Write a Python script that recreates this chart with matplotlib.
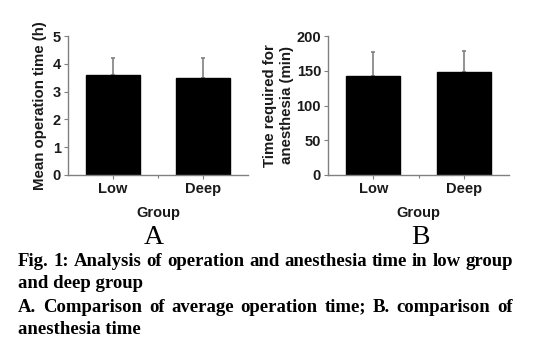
import matplotlib
matplotlib.use('Agg')
import matplotlib.pyplot as plt
from matplotlib.ticker import MultipleLocator

# Data
groups = ['Low', 'Deep']
op_mean = [3.6, 3.48]
op_sd = [0.61, 0.73]
an_mean = [143, 148]
an_sd = [34, 30]

caption = [
    'Fig. 1: Analysis of operation and anesthesia time in low group',
    'and deep group',
    'A. Comparison of average operation time; B. comparison of',
    'anesthesia time',
]

sans = 'Liberation Sans'
serif = 'Liberation Serif'
ink = '#1a1a1a'
grey = '#808080'

fig = plt.figure(figsize=(5.47, 3.47), dpi=100)
ax1 = fig.add_axes([68/547, 1 - 175/347, 180/547, 139/347])
ax2 = fig.add_axes([328/547, 1 - 175/347, 181/547, 139/347])


def draw_panel(ax, means, sds, ymax, ystep, ylabel, pad):
    x = range(len(groups))
    ax.bar(x, means, width=0.6, color='black', edgecolor='black', zorder=2)
    ax.errorbar(x, means, yerr=[[0]*len(sds), sds], fmt='none',
                ecolor=grey, elinewidth=1.2, capsize=1.5, capthick=1.2, zorder=1)
    ax.set_xlim(-0.5, 1.5)
    ax.set_ylim(0, ymax)
    ax.yaxis.set_major_locator(MultipleLocator(ystep))
    ax.set_xticks(list(x))
    ax.set_xticklabels(groups)
    ax.set_xticks([0.5], minor=True)
    for s in ['top', 'right']:
        ax.spines[s].set_visible(False)
    for s in ['left', 'bottom']:
        ax.spines[s].set_color(grey)
        ax.spines[s].set_linewidth(1.0)
    ax.tick_params(axis='both', which='both', colors=grey, length=3, width=0.8,
                   labelcolor=ink, labelsize=10.5, pad=2)
    ax.tick_params(axis='x', which='minor', length=2)
    for lab in ax.get_xticklabels() + ax.get_yticklabels():
        lab.set_fontfamily(sans)
        lab.set_fontweight('bold')
    ax.set_xlabel('Group', fontfamily=sans, fontweight='bold', fontsize=10.5,
                  color=ink, labelpad=7)
    ax.set_ylabel(ylabel, fontfamily=sans, fontweight='bold', fontsize=10.8,
                  color=ink, labelpad=pad, linespacing=1.2)


draw_panel(ax1, op_mean, op_sd, 5, 1, 'Mean operation time (h)', 4)
draw_panel(ax2, an_mean, an_sd, 200, 50, 'Time required for\nanesthesia (min)', 2)

fig.text(154/547, 1 - 237/347, 'A', fontfamily=serif, fontsize=20,
         ha='center', va='center', color='black')
fig.text(420/547, 1 - 237/347, 'B', fontfamily=serif, fontsize=20,
         ha='center', va='center', color='black')

# caption, justified where the original is
renderer = fig.canvas.get_renderer()
left, right = 18, 513
line_y = [261, 284, 307, 329]
justify = [True, False, True, False]
for text, yy, jus in zip(caption, line_y, justify):
    yf = 1 - yy/347
    if not jus:
        fig.text(left/547, yf, text, fontfamily=serif, fontweight='bold',
                 fontsize=13.5, va='center', ha='left')
        continue
    words = text.split(' ')
    objs = [fig.text(0, yf, w, fontfamily=serif, fontweight='bold',
                     fontsize=13.5, va='center', ha='left') for w in words]
    widths = [o.get_window_extent(renderer).width for o in objs]
    gap = (right - left - sum(widths)) / (len(words) - 1)
    xx = left
    for o, w in zip(objs, widths):
        o.set_x(xx/547)
        xx += w + gap

fig.savefig('out.png', dpi=100)
